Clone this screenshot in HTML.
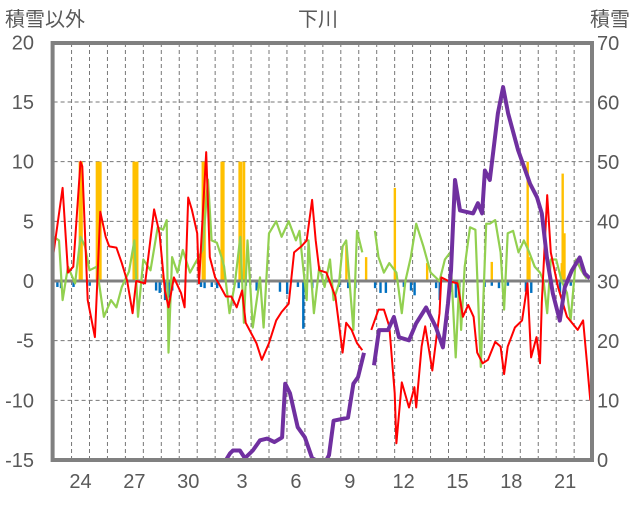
<!DOCTYPE html>
<html><head><meta charset="utf-8"><style>
body{margin:0;background:#fff;}
svg text{font-family:"Liberation Sans","Noto Sans CJK JP",sans-serif;fill:#595959;}
</style></head><body>
<svg id="chart" width="636" height="501" xmlns="http://www.w3.org/2000/svg">
<g id="grid"></g>
<g id="bars"></g>
<g id="lines"></g>
<g id="axes"></g>
<text x="5" y="26" font-size="20">積雪以外</text>
<text x="318" y="26" font-size="20" text-anchor="middle">下川</text>
<text x="590" y="26" font-size="20">積雪</text>
</svg>
<script>
const dayLabels=["24","27","30","3","6","9","12","15","18","21"];
const dayLabelIdx=[1,4,7,10,13,16,19,22,25,28];
const leftTicks=[20,15,10,5,0,-5,-10,-15];
const rightTicks=[70,60,50,40,30,20,10,0];
const redT=[0,0.5,0.8,1.1,1.5,1.6,1.9,2.3,2.6,2.9,3.1,3.5,3.8,4.1,4.4,4.6,5.1,5.6,5.9,6.2,6.4,6.7,7.1,7.3,7.5,7.7,8.0,8.1,8.5,8.7,9.0,9.2,9.6,9.9,10.2,10.5,10.7,11.3,11.6,12.0,12.4,12.7,13.1,13.4,13.8,14.1,14.4,14.6,14.8,15.2,15.7,16.1,16.3,16.6,16.9,17.2,17.4,17.7,18.1,18.4,18.7,19.0,19.1,19.4,19.8,20.1,20.2,20.5,20.7,21.1,21.5,21.6,22.0,22.5,22.8,23.1,23.4,23.6,23.9,24.2,24.6,24.9,25.1,25.3,25.7,26.1,26.4,26.6,26.9,27.1,27.2,27.5,27.7,28.1,28.6,29.2,29.5,29.7,29.9];
const redV=[2.4,7.8,0.7,1.2,10,9.6,-1.6,-4.7,5.8,3.7,2.9,2.8,1.5,0,-2.7,0,-0.2,6,4,-0.8,-2.2,0.3,-1,-2.2,7,6,4,-0.2,10.8,2,0.3,-0.2,-1.3,-1.3,-2.2,-0.8,-3.5,-5.2,-6.6,-5.2,-3.3,-2.6,-1.9,2.4,2.9,3.4,6.8,3.4,0.9,0.7,-1.3,-6,-3.5,-4.1,-5.2,-5.8,null,-4.1,-2.4,-2.4,-3.8,-9.4,-13.6,-8.5,-10.6,-8.9,-10.6,-5.5,-3.8,-7.5,-2.7,0.3,0,-0.2,-3,-2,-3,-6,-6.9,-6.6,-5.1,-5.5,-7.8,-5.5,-3.9,-3.3,-0.2,-6.4,-4.7,-6.9,-1.8,7.2,2.4,-0.5,-3,-4.1,-3.3,-6.6,-10];
const greenT=[0,0.3,0.5,0.8,1.2,1.5,1.75,2.0,2.4,2.8,3.2,3.5,3.8,4.2,4.5,4.7,5.0,5.4,5.8,6.1,6.3,6.4,6.6,6.9,7.2,7.6,8.0,8.3,8.6,8.8,9.1,9.4,9.5,9.8,10.1,10.4,10.6,10.8,11.1,11.5,11.7,12.0,12.4,12.7,13.1,13.5,13.7,13.9,14.1,14.2,14.5,14.8,15.1,15.4,15.6,15.9,16.1,16.3,16.7,16.9,17.2,17.4,17.9,18.1,18.4,18.7,19.1,19.4,19.6,19.9,20.2,20.6,21.0,21.5,21.8,22.1,22.4,22.6,22.7,22.9,23.2,23.5,23.8,24.1,24.3,24.6,24.9,25.1,25.3,25.6,25.9,26.2,26.5,26.8,27.1,27.3,27.5,27.7,28.0,28.3,28.6,28.8,29.1,29.4,29.7];
const greenV=[3.7,3.4,-1.6,1.2,-0.2,3.7,2.9,0.9,1.2,-3,-1.6,-2.2,-0.5,0.8,3.4,-3,1.8,0.9,4.5,4.3,5.1,-6,2,0.7,2.6,0.7,1.8,2.6,8.5,3.4,3.2,1.8,1.2,-2.7,-0.2,3.7,-3.5,3.4,-3.9,0.3,-3.9,4,5,3.7,5,3.4,4.2,1.2,-1.6,3.4,-2.7,1.2,-0.5,1.8,-1.6,-0.2,2.9,3.4,-4.1,4.2,2.4,null,4.2,2,0.7,1.5,0.7,-2.7,0,2,4.8,2.9,0.7,0,1.8,2.4,-6.4,0,-4.1,1.2,4.5,4.3,-7.2,4.8,4.8,5.1,2.4,-2.4,4,4.2,2.4,3.4,2.4,1.2,0.7,0,-2.7,1.8,1.8,0,-1,-3.3,1.8,0.9,0.2];
const snowT=[0,9.6,9.83,9.99,10.38,10.66,11.1,11.5,11.9,12.3,12.73,12.9,13.17,13.6,14.0,14.4,14.6,15.2,15.34,15.6,16.4,16.7,16.96,17.29,17.5,17.85,18.13,18.63,18.96,19.24,19.8,20.19,20.75,21.3,21.69,21.97,22.14,22.36,22.64,23.37,23.64,23.87,24.03,24.3,24.75,25.04,25.32,25.88,26.54,26.93,27.2,27.48,27.81,28.2,28.48,28.87,29.31,29.59,29.87];
const snowV=[0,0,1.1,1.6,1.6,0.3,1.6,3.3,3.6,3,3.8,12.8,11.2,5.5,3.8,0.3,0,0,0.8,6.6,7.1,12.8,13.9,18,null,15.9,21.8,21.8,24,20.6,20.1,22.9,25.6,22.3,18.9,26.3,31.8,47,41.9,41.4,43.1,41.4,48.6,47,58.2,62.6,58.2,52,46.4,44.1,41.4,34,28,23.4,29,31.8,34,31.3,30.5];
const orangeT=[1.45,1.55,2.4,2.5,2.6,4.45,4.55,4.65,6.1,8.3,8.4,9.35,9.45,10.35,10.45,10.6,16.3,17.4,19.0,20.8,24.4,26.4,26.5,28.3,28.35,28.45];
const orangeV=[10,10,10,10,10,10,10,10,0.5,10,10,10,10,10,10,10,3,2,7.8,1.5,1.6,10,2,1.5,9,4];
const blueT=[0.2,0.4,1.1,2.0,5.7,5.9,6.2,6.4,6.6,8.2,8.4,8.8,9.1,10.3,10.7,11.3,12.6,13.0,13.6,13.9,14.4,15.9,16.4,16.8,17.9,18.2,18.5,19.5,19.9,20.1,21.3,21.5,22.1,22.4,22.6,24.0,24.4,24.8,25.3,26.3,26.6,27.7,28.2,28.8];
const blueV=[-0.5,-0.6,-0.5,-0.4,-0.8,-1,-1.6,-1.4,-0.8,-0.5,-0.6,-0.5,-0.6,-0.6,-0.4,-0.8,-0.9,-1.1,-0.5,-4,-0.6,-0.5,-0.6,-0.6,-0.6,-1,-1,-0.5,-0.8,-1.2,-0.6,-1.6,-0.9,-1.4,-0.5,-0.5,-0.4,-0.6,-0.4,-0.9,-1,-0.6,-1,-0.4];

const NS="http://www.w3.org/2000/svg";
const X0=53.6, DW=17.95, YT=43, YB=460;
const x=d=>X0+d*DW;
const yL=v=>281-v*(YB-281)/15;
const yR=s=>YB-s*(YB-YT)/70;
function mk(tag,attrs,parent){const e=document.createElementNS(NS,tag);for(const k in attrs)e.setAttribute(k,attrs[k]);parent.appendChild(e);return e;}
const grid=document.getElementById('grid'),bars=document.getElementById('bars'),lines=document.getElementById('lines'),axes=document.getElementById('axes');
for(let d=1;d<30;d++){const l=mk('line',{x1:x(d),x2:x(d),y1:YT,y2:YB,stroke:'#777','stroke-width':1,'stroke-dasharray':'4,3'},grid);

}
leftTicks.forEach(v=>{if(v!==0&&v!==20&&v!==-15){const l=mk('line',{x1:X0,x2:592,y1:yL(v),y2:yL(v),stroke:'#777','stroke-width':1,'stroke-dasharray':'4,3'},grid);

}
const t=mk('text',{x:34,y:yL(v)+7,'font-size':20,'text-anchor':'end'},axes);t.textContent=String(v);

});
rightTicks.forEach(s=>{const t=mk('text',{x:597,y:yR(s)+7,'font-size':20},axes);t.textContent=String(s);

});
dayLabels.forEach((lab,i)=>{const t=mk('text',{x:x(dayLabelIdx[i]+0.5),y:488,'font-size':20,'text-anchor':'middle'},axes);t.textContent=lab;

});
orangeT.forEach((d,i)=>{const r=mk('rect',{x:x(d)-1,y:yL(orangeV[i]),width:2.4,height:yL(0)-yL(orangeV[i]),fill:'#FFC000'},bars);

});
blueT.forEach((d,i)=>{const r=mk('rect',{x:x(d)-1,y:yL(0),width:2.4,height:yL(blueV[i])-yL(0),fill:'#0070C0'},bars);

});
const z=mk('line',{x1:X0,x2:592,y1:yL(0),y2:yL(0),stroke:'#808080','stroke-width':3},bars);


function path(ts,vs,fy){let d='',pen=false;ts.forEach((t,i)=>{if(vs[i]===null){pen=false;return;}d+=(pen?'L':'M')+x(t).toFixed(1)+','+fy(vs[i]).toFixed(1);pen=true;});return d;}
const g=mk('path',{d:path(greenT,greenV,yL),fill:'none',stroke:'#92D050','stroke-width':2.2,'stroke-linejoin':'round'},lines);


const r=mk('path',{d:path(redT,redV,yL),fill:'none',stroke:'#FF0000','stroke-width':2,'stroke-linejoin':'round'},lines);


const p=mk('path',{d:path(snowT,snowV,yR),fill:'none',stroke:'#7030A0','stroke-width':4,'stroke-linejoin':'round'},lines);


const f=mk('rect',{x:X0-1,y:YT,width:592-X0+1,height:YB-YT,fill:'none',stroke:'#808080','stroke-width':4},axes);


</script>
</body></html>
